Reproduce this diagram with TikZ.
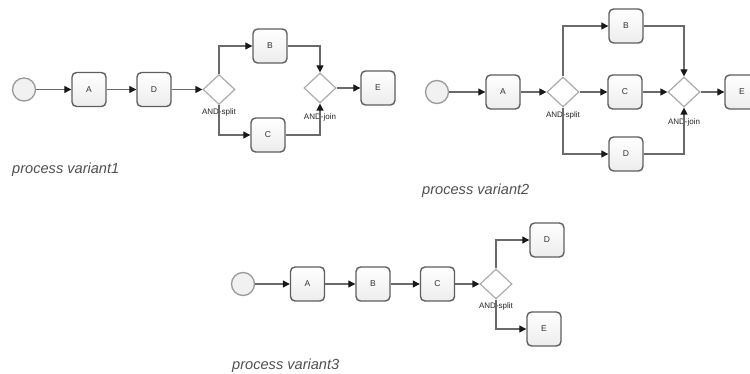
\documentclass[tikz,border=0pt]{standalone}
\usepackage{fontspec}
\setmainfont{Liberation Sans}
\usetikzlibrary{arrows.meta,shapes.geometric,positioning}

\definecolor{boxline}{HTML}{5F5F5F}
\definecolor{boxfill}{HTML}{F1F1F1}
\definecolor{evline}{HTML}{9A9A9A}
\definecolor{gwline}{HTML}{ABABAB}
\definecolor{flowline}{HTML}{6A6A6A}
\definecolor{captext}{HTML}{505050}

\tikzset{
  task/.style={draw=boxline, line width=1.4pt, rounded corners=4.5pt,
    top color=white, bottom color=boxfill!85!gray!60,
    minimum width=34pt, minimum height=34pt, inner sep=0pt,
    font=\fontsize{8.5}{9}\selectfont, text=black!80},
  startev/.style={circle, draw=evline, line width=1.3pt, fill=boxfill,
    minimum size=23pt, inner sep=0pt},
  gateway/.style={diamond, draw=gwline, line width=1.2pt, fill=white,
    minimum width=32pt, minimum height=30pt, inner sep=0pt},
  gwlabel/.style={font=\fontsize{8}{9}\selectfont, text=black!85, inner sep=0pt},
  flow/.style={draw=flowline, line width=1.2pt,
    -{Triangle[length=7pt,width=7pt,fill=black!90,color=black!90]}},
  caption/.style={font=\fontsize{14.6}{16}\itshape, text=captext,
    inner sep=0pt, anchor=base west}
}

\begin{document}
\begin{tikzpicture}[x=1pt,y=-1pt]
\useasboundingbox (0,0) rectangle (750,374);
\clip (0,0) rectangle (750,374);
\fill[white] (0,0) rectangle (750,374);

% ---- variant 1 ----
\node[startev] (s1) at (24,89.5) {};
\node[task] (a1) at (89,89.5) {A};
\node[task] (d1) at (154,89.5) {D};
\node[gateway] (sp1) at (219,89.5) {};
\node[task] (b1) at (270,46) {B};
\node[task] (c1) at (268,135) {C};
\node[gateway] (jn1) at (320,88) {};
\node[task] (e1) at (378,88) {E};
\node[gwlabel, below=3pt of sp1] (sp1l) {AND-split};
\node[gwlabel, below=10pt of jn1] (jn1l) {AND-join};
\node[caption] (cap1) at (12,174) {process variant1};

\draw[flow] (s1) -- (a1);
\draw[flow] (a1) -- (d1);
\draw[flow] (d1) -- (sp1.west);
\draw[flow] (sp1.north) |- (b1);
\draw[flow] (sp1.south) |- (c1);
\draw[flow] (b1) -| (jn1.north);
\draw[flow] (c1) -| (jn1.south);
\draw[flow] (jn1) -- (e1);

% ---- variant 2 ----
\node[startev] (s2) at (437,92) {};
\node[task] (a2) at (503,92) {A};
\node[gateway] (sp2) at (563,92) {};
\node[task] (b2) at (626,26) {B};
\node[task] (c2) at (625,92) {C};
\node[task] (d2) at (626,154) {D};
\node[gateway] (jn2) at (684,92) {};
\node[task] (e2) at (742,92) {E};
\node[gwlabel, below=4pt of sp2] (sp2l) {AND-split};
\node[gwlabel, below=11pt of jn2] (jn2l) {AND-join};
\node[caption] (cap2) at (422,195) {process variant2};

\draw[flow] (s2) -- (a2);
\draw[flow] (a2) -- (sp2.west);
\draw[flow] (sp2.north) |- (b2);
\draw[flow] (sp2) -- (c2);
\draw[flow] (sp2.south) |- (d2);
\draw[flow] (b2) -| (jn2.north);
\draw[flow] (c2) -- (jn2.west);
\draw[flow] (d2) -| (jn2.south);
\draw[flow] (jn2) -- (e2);

% ---- variant 3 ----
\node[startev] (s3) at (243,284) {};
\node[task] (a3) at (307.5,284) {A};
\node[task] (b3) at (373,284) {B};
\node[task] (c3) at (437.5,284) {C};
\node[gateway] (sp3) at (496,284) {};
\node[task] (d3) at (547,240) {D};
\node[task] (e3) at (544,329) {E};
\node[gwlabel, below=3pt of sp3] (sp3l) {AND-split};
\node[caption] (cap3) at (232,369) {process variant3};

\draw[flow] (s3) -- (a3);
\draw[flow] (a3) -- (b3);
\draw[flow] (b3) -- (c3);
\draw[flow] (c3) -- (sp3.west);
\draw[flow] (sp3.north) |- (d3);
\draw[flow] (sp3.south) |- (e3);
\end{tikzpicture}
\end{document}
